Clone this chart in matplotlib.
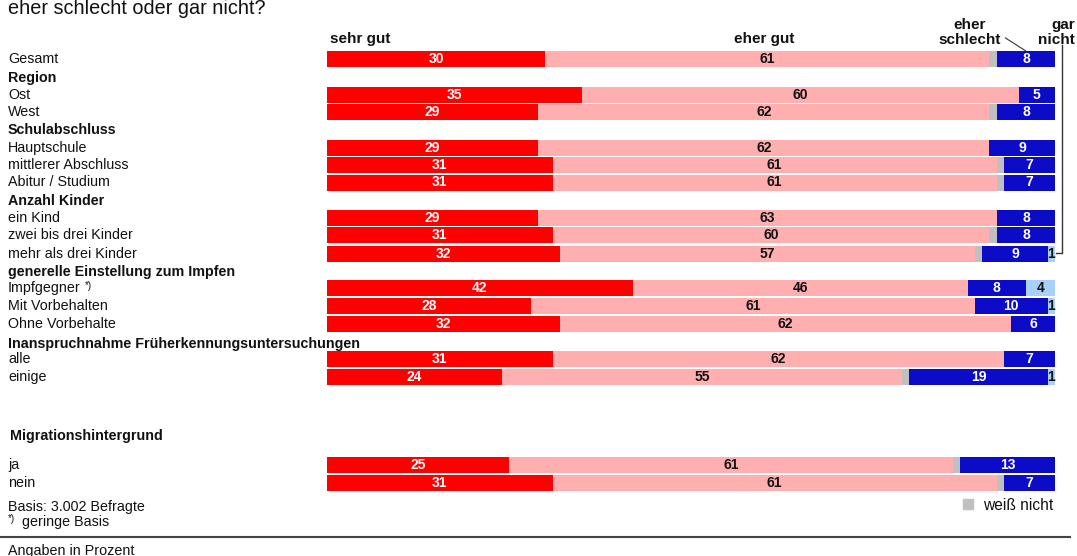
import matplotlib.pyplot as plt
from matplotlib import transforms
from matplotlib.patches import Rectangle
from matplotlib.lines import Line2D

plt.rcParams['font.family'] = ['Liberation Sans', 'DejaVu Sans']

# data (Angaben in Prozent)
rows = ['Gesamt', 'Ost', 'West', 'Hauptschule', 'mittlerer Abschluss', 'Abitur / Studium',
        'ein Kind', 'zwei bis drei Kinder', 'mehr als drei Kinder',
        'Impfgegner', 'Mit Vorbehalten', 'Ohne Vorbehalte', 'alle', 'einige', 'ja', 'nein']
groups = ['Region', 'Schulabschluss', 'Anzahl Kinder', 'generelle Einstellung zum Impfen',
          'Inanspruchnahme Früherkennungsuntersuchungen', 'Migrationshintergrund']
sehr_gut = [30, 35, 29, 29, 31, 31, 29, 31, 32, 42, 28, 32, 31, 24, 25, 31]
eher_gut = [61, 60, 62, 62, 61, 61, 63, 60, 57, 46, 61, 62, 62, 55, 61, 61]
weiss_nicht = [1, 0, 1, 0, 1, 1, 0, 1, 1, 0, 0, 0, 0, 1, 1, 1]
eher_schlecht = [8, 5, 8, 9, 7, 7, 8, 8, 9, 8, 10, 6, 7, 19, 13, 7]
gar_nicht = [0, 0, 0, 0, 0, 0, 0, 0, 1, 4, 1, 0, 0, 1, 0, 0]

# layout: vertical positions in pixels from the top
row_y = [59, 95, 112, 148, 165, 182.5, 218, 235, 254, 288, 306, 324, 359, 377, 465, 483]
group_y = [78, 130, 201, 272, 344, 436]
group_x = [8, 8, 8, 8, 8, 10]

fig = plt.figure(figsize=(10.77, 5.56), dpi=100)
ax = fig.add_axes([327 / 1077, 0, 728 / 1077, 1])
ax.set_xlim(0, 100)
ax.set_ylim(556, 0)
ax.axis('off')
lt = transforms.blended_transform_factory(fig.transFigure, ax.transData)

series = [(sehr_gut, '#FF0000', 'white'),
          (eher_gut, '#FFAFAF', '#111111'),
          (weiss_nicht, '#C0C0C0', None),
          (eher_schlecht, '#0C0CC8', 'white'),
          (gar_nicht, '#A8D0F8', '#111111')]
left = [0] * len(rows)
for vals, col, tc in series:
    bars = ax.barh(row_y, vals, left=left, height=16, color=col, linewidth=0)
    if tc:
        ax.bar_label(bars, labels=[str(v) if v else '' for v in vals], label_type='center',
                     color=tc, fontweight='bold', fontsize=10)
    left = [l + v for l, v in zip(left, vals)]

txt = '#111111'
fs = 10.3
for name, y in zip(rows, row_y):
    t = ax.text(8 / 1077, y, name, transform=lt, va='center', ha='left', fontsize=fs, color=txt)
    if name == 'Impfgegner':
        ax.annotate('*)', xy=(1, 1), xycoords=t, xytext=(3, 0), textcoords='offset points',
                    va='top', ha='left', fontsize=7, color=txt)
for name, y, x in zip(groups, group_y, group_x):
    ax.text(x / 1077, y, name, transform=lt, va='center', ha='left', fontsize=fs,
            fontweight='bold', color=txt)

# title (cut at the top)
ax.text(8 / 1077, 14, 'eher schlecht oder gar nicht?', transform=lt, va='baseline',
        ha='left', fontsize=14.3, color=txt)

# column headers
hfs = 11
ax.text(0.4, 43, 'sehr gut', va='baseline', ha='left', fontsize=hfs, fontweight='bold', color=txt)
ax.text(60, 43, 'eher gut', va='baseline', ha='center', fontsize=hfs, fontweight='bold', color=txt)
ax.text(92.6, 47, 'eher\nschlecht', va='bottom', ha='right', multialignment='center',
        fontsize=hfs, fontweight='bold', color=txt, linespacing=1.1)
ax.text(102.7, 47, 'gar\nnicht', va='bottom', ha='right', multialignment='right',
        fontsize=hfs, fontweight='bold', color=txt, linespacing=1.1, clip_on=False)
ax.plot([93.2, 96.0], [38, 51], color='#333333', lw=0.8, clip_on=False)
ax.plot([100.2, 101.0, 101.0], [253, 253, 45], color='#333333', lw=1, clip_on=False)

# footer
ax.text(8 / 1077, 507, 'Basis: 3.002 Befragte', transform=lt, va='center', ha='left',
        fontsize=fs, color=txt)
ax.text(8 / 1077, 519, '*)', transform=lt, va='center', ha='left', fontsize=7, color=txt)
ax.text(22 / 1077, 522, 'geringe Basis', transform=lt, va='center', ha='left',
        fontsize=fs, color=txt)
ax.add_patch(Rectangle((87.4, 499), 1.4, 10, color='#C0C0C0', clip_on=False))
ax.text(90.1, 506, 'weiß nicht', va='center', ha='left', fontsize=11.2, color=txt)
fig.add_artist(Line2D([0, 1070 / 1077], [1 - 537 / 556] * 2, transform=fig.transFigure,
                      color='#444444', lw=1.5))
ax.text(8 / 1077, 551, 'Angaben in Prozent', transform=lt, va='center', ha='left',
        fontsize=fs, color=txt)

fig.savefig('out.png', dpi=100)
